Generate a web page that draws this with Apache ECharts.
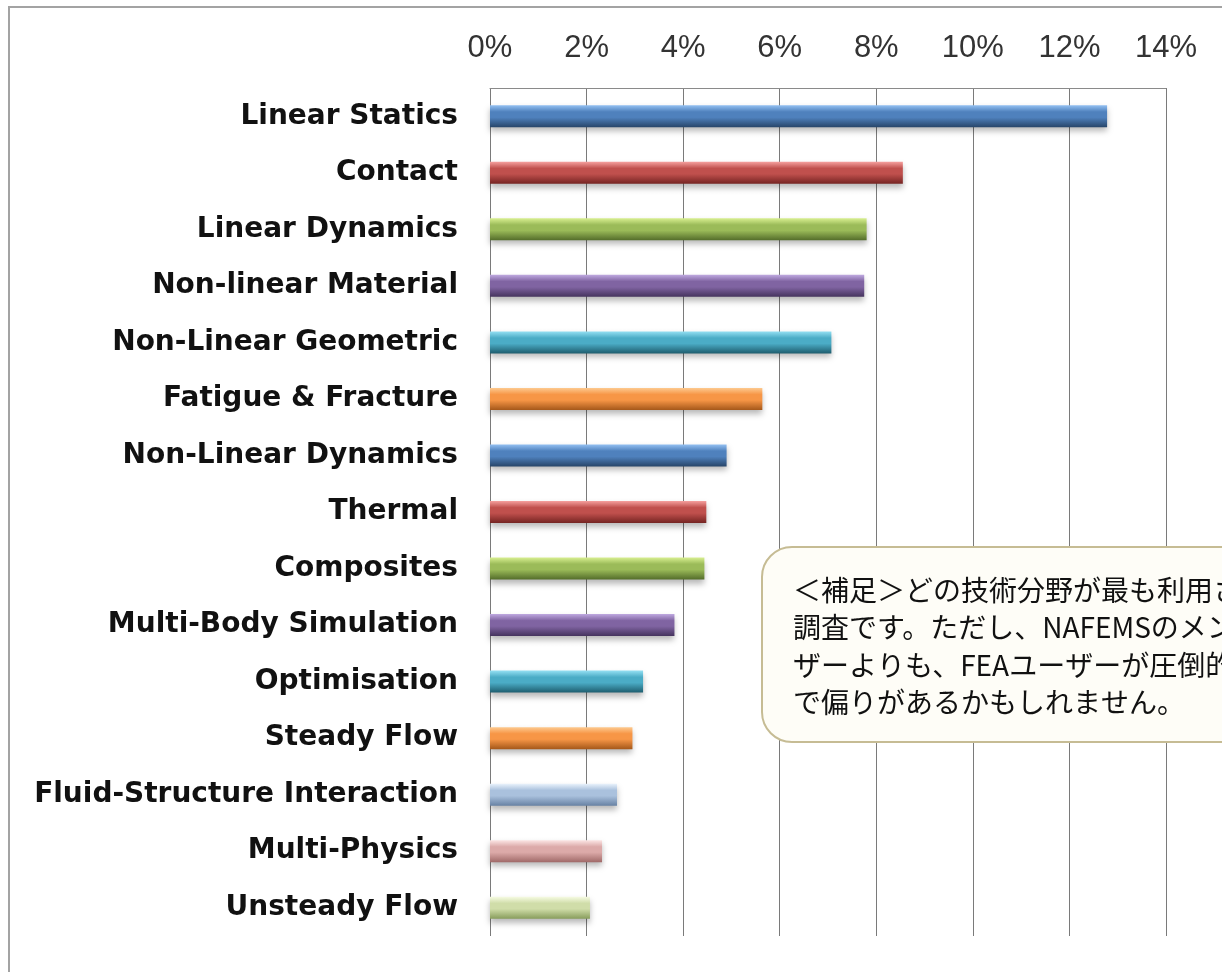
<!DOCTYPE html>
<html>
<head>
<meta charset="utf-8">
<script src="https://cdn.jsdelivr.net/npm/echarts@6/dist/echarts.min.js"></script>
<style>
  html, body { margin: 0; padding: 0; background: #fff; }
  #chart { width: 1222px; height: 972px; }
</style>
</head>
<body>
<div id="chart"></div>
<script>
// analysis types, top to bottom
const categories = [
  'Linear Statics', 'Contact', 'Linear Dynamics', 'Non-linear Material',
  'Non-Linear Geometric', 'Fatigue & Fracture', 'Non-Linear Dynamics', 'Thermal',
  'Composites', 'Multi-Body Simulation', 'Optimisation', 'Steady Flow',
  'Fluid-Structure Interaction', 'Multi-Physics', 'Unsteady Flow'
];
// share of respondents, %
const shares = [12.78, 8.55, 7.8, 7.75, 7.07, 5.64, 4.9, 4.48, 4.44, 3.82, 3.17, 2.95, 2.63, 2.32, 2.07];
const xTicks = [0, 2, 4, 6, 8, 10, 12, 14];

const noteLines = [
  '＜補足＞どの技術分野が最も利用されているかの',
  '調査です。ただし、NAFEMSのメンバーは、CFDユー',
  'ザーよりも、FEAユーザーが圧倒的に多いの',
  'で偏りがあるかもしれません。'
];

// bar shading: light top, base, dark bottom
const barShades = [
  ['#93c0f2', '#4f81bd', '#274569'],
  ['#f5a09e', '#c0504d', '#752422'],
  ['#d8ef90', '#9bbb59', '#536c2a'],
  ['#bea8df', '#8064a2', '#45335d'],
  ['#95e0f3', '#4bacc6', '#1e5d6e'],
  ['#fdca90', '#f79646', '#a5581a'],
  ['#93c0f2', '#4f81bd', '#274569'],
  ['#f5a09e', '#c0504d', '#752422'],
  ['#d8ef90', '#9bbb59', '#536c2a'],
  ['#bea8df', '#8064a2', '#45335d'],
  ['#95e0f3', '#4bacc6', '#1e5d6e'],
  ['#fdca90', '#f79646', '#a5581a'],
  ['#eaf3fc', '#aac1dd', '#6882a4'],
  ['#fce6e5', '#dcaaa9', '#a06968'],
  ['#f6fbe3', '#d0dda9', '#889d5c']
];

function shade(i) {
  const s = barShades[i];
  return new echarts.graphic.LinearGradient(0, 0, 0, 1, [
    { offset: 0, color: s[0] },
    { offset: 0.3, color: s[1] },
    { offset: 0.55, color: s[1] },
    { offset: 1, color: s[2] }
  ]);
}

const chart = echarts.init(document.getElementById('chart'));

chart.setOption({
  backgroundColor: '#ffffff',
  animation: false,
  grid: { left: 490, right: 56, top: 88, bottom: 36 },
  xAxis: {
    type: 'value',
    position: 'top',
    min: xTicks[0],
    max: xTicks[xTicks.length - 1],
    interval: xTicks[1] - xTicks[0],
    axisLine: { show: true, lineStyle: { color: '#8a8a8a', width: 1 } },
    axisTick: { show: false },
    axisLabel: {
      formatter: '{value}%',
      margin: 24,
      color: '#333',
      fontSize: 31,
      fontFamily: 'Liberation Sans Narrow, Liberation Sans, Arial, sans-serif'
    },
    splitLine: { show: true, lineStyle: { color: '#7a7a7a', width: 1 } }
  },
  yAxis: {
    type: 'category',
    data: categories,
    inverse: true,
    axisLine: { show: false },
    axisTick: { show: false },
    axisLabel: {
      margin: 32,
      color: '#111',
      fontSize: 28,
      fontWeight: 'bold',
      fontFamily: 'DejaVu Sans, sans-serif'
    }
  },
  series: [{
    type: 'bar',
    data: shares.map((v, i) => ({ value: v, itemStyle: { color: shade(i) } })),
    barWidth: 22,
    itemStyle: {
      shadowBlur: 6,
      shadowOffsetY: 4,
      shadowColor: 'rgba(0,0,0,0.28)'
    }
  }],
  graphic: [
    {
      type: 'rect',
      z: 100,
      shape: { x: 9, y: 7, width: 1300, height: 1000 },
      style: { fill: 'none', stroke: '#a3a3a3', lineWidth: 2 }
    },
    {
      type: 'rect',
      z: 100,
      shape: { x: 762, y: 547, width: 520, height: 195, r: 30 },
      style: { fill: '#fefdf7', stroke: '#c6bc94', lineWidth: 2 }
    },
    ...noteLines.map((t, i) => ({
      type: 'text',
      z: 101,
      x: 793,
      y: 590 + i * 37.5,
      style: {
        text: t,
        fill: '#111',
        fontSize: 28,
        fontFamily: 'Noto Sans CJK JP, sans-serif',
        verticalAlign: 'middle'
      }
    }))
  ]
});
</script>
</body>
</html>
